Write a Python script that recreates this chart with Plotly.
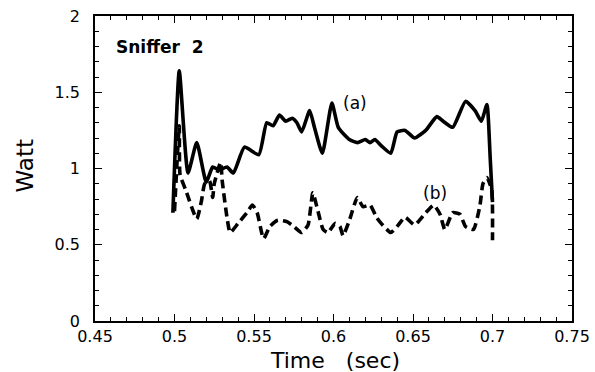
import plotly.graph_objects as go

# Curve (a): solid
time_a = [0.499, 0.503, 0.5085, 0.514, 0.520, 0.524, 0.528, 0.533, 0.537, 0.544, 0.553,
          0.558, 0.562, 0.566, 0.570, 0.574, 0.577, 0.580, 0.585, 0.588, 0.593, 0.599,
          0.603, 0.610, 0.615, 0.620, 0.623, 0.626, 0.630, 0.636, 0.640, 0.645, 0.651,
          0.658, 0.665, 0.669, 0.675, 0.683, 0.689, 0.693, 0.6965, 0.6985, 0.700]
watt_a = [0.71, 1.64, 0.97, 1.17, 0.91, 1.01, 0.99, 1.01, 0.97, 1.14, 1.09,
          1.30, 1.28, 1.35, 1.31, 1.33, 1.30, 1.24, 1.38, 1.27, 1.10, 1.43,
          1.27, 1.19, 1.17, 1.19, 1.17, 1.19, 1.15, 1.10, 1.24, 1.25, 1.20,
          1.25, 1.34, 1.31, 1.27, 1.44, 1.38, 1.31, 1.42, 1.08, 0.78]

# Curve (b): dashed
time_b = [0.500, 0.503, 0.5035, 0.507, 0.514, 0.517, 0.519, 0.522, 0.524, 0.525, 0.529,
          0.530, 0.533, 0.535, 0.540, 0.5455, 0.549, 0.552, 0.556, 0.560, 0.565, 0.571,
          0.575, 0.580, 0.584, 0.587, 0.590, 0.5935, 0.5965, 0.601, 0.604, 0.606, 0.610,
          0.615, 0.6185, 0.623, 0.627, 0.630, 0.636, 0.640, 0.645, 0.651, 0.658, 0.663,
          0.667, 0.670, 0.675, 0.6795, 0.683, 0.688, 0.692, 0.694, 0.6965, 0.6995, 0.700]
watt_b = [0.72, 1.28, 0.96, 0.86, 0.67, 0.79, 0.90, 0.92, 0.81, 0.90, 1.04,
          0.92, 0.68, 0.58, 0.64, 0.71, 0.76, 0.71, 0.54, 0.62, 0.66, 0.65,
          0.62, 0.58, 0.63, 0.84, 0.73, 0.60, 0.58, 0.64, 0.62, 0.56, 0.66,
          0.81, 0.75, 0.76, 0.68, 0.64, 0.58, 0.62, 0.68, 0.63, 0.71, 0.76,
          0.70, 0.60, 0.71, 0.70, 0.62, 0.60, 0.75, 0.90, 0.94, 0.86, 0.53]

x_ticks = [0.45, 0.5, 0.55, 0.6, 0.65, 0.7, 0.75]
x_tick_text = ["0.45", "0.5", "0.55", "0.6", "0.65", "0.7", "0.75"]
y_ticks = [0, 0.5, 1, 1.5, 2]
y_tick_text = ["0", "0.5", "1", "1.5", "2"]

FONT = "DejaVu Sans, Verdana, sans-serif"
X_RANGE = [0.45, 0.75]
Y_RANGE = [0, 2]

fig = go.Figure()
fig.add_trace(go.Scatter(x=time_a, y=watt_a, mode="lines",
                         line=dict(color="black", width=3.6, shape="spline", smoothing=0.5)))
fig.add_trace(go.Scatter(x=time_b, y=watt_b, mode="lines",
                         line=dict(color="black", width=3.6, dash="9px,5px", shape="spline", smoothing=0.5)))

tick_common = dict(ticks="inside", ticklen=7, tickwidth=1.3, tickcolor="black",
                   showgrid=False, zeroline=False, automargin=False,
                   tickfont=dict(family=FONT, size=16, color="black"))
minor_x = dict(dtick=0.01, ticks="inside", ticklen=4, tickwidth=1, tickcolor="black", showgrid=False)
minor_y = dict(dtick=0.1, ticks="inside", ticklen=4, tickwidth=1, tickcolor="black", showgrid=False)

fig.update_layout(
    xaxis=dict(range=X_RANGE, tickvals=x_ticks, ticktext=x_tick_text,
               showline=True, linecolor="black", linewidth=1.5, minor=minor_x, **tick_common),
    yaxis=dict(range=Y_RANGE, tickvals=y_ticks, ticktext=y_tick_text,
               showline=True, linecolor="black", linewidth=1.5, ticklabelstandoff=10,
               minor=minor_y, **tick_common),
    xaxis2=dict(range=X_RANGE, overlaying="x", side="top", anchor="y", tickvals=x_ticks,
                showticklabels=False, showline=True, linecolor="black", linewidth=1.5,
                minor=minor_x, **tick_common),
    yaxis2=dict(range=Y_RANGE, overlaying="y", side="right", anchor="x", tickvals=y_ticks,
                showticklabels=False, showline=True, linecolor="black", linewidth=1.5,
                minor=minor_y, **tick_common),
)
# invisible trace to activate the mirrored axes
fig.add_trace(go.Scatter(x=[X_RANGE[0]], y=[Y_RANGE[0]], xaxis="x2", yaxis="y2",
                         mode="markers", marker=dict(opacity=0), hoverinfo="skip"))

# axis titles
fig.add_annotation(xref="paper", yref="paper", x=0.503, y=-0.128, yanchor="middle",
                   text="Time\u00a0\u00a0\u00a0(sec)", showarrow=False,
                   font=dict(family=FONT, size=22, color="black"))
fig.add_annotation(xref="x domain", yref="y domain", x=-0.146, y=0.508, textangle=-90,
                   xanchor="center", yanchor="middle",
                   text="Watt", showarrow=False,
                   font=dict(family=FONT, size=23, color="black"))

fig.add_annotation(x=0.4909, y=1.80, text="<b>Sniffer\u00a0\u00a02</b>", showarrow=False,
                   font=dict(family=FONT, size=17, color="black"))
fig.add_annotation(x=0.6135, y=1.43, text="(a)", showarrow=False,
                   font=dict(family=FONT, size=17, color="black"))
fig.add_annotation(x=0.664, y=0.84, text="(b)", showarrow=False,
                   font=dict(family=FONT, size=17, color="black"))

fig.update_layout(width=595, height=372, margin=dict(l=95, r=23, t=16, b=51, autoexpand=False),
                  plot_bgcolor="white", paper_bgcolor="white", showlegend=False)

fig.write_html("out.html", config={"displayModeBar": False},
               post_script="document.body.style.margin='0px';document.body.style.padding='0px';document.body.style.overflow='hidden';")
